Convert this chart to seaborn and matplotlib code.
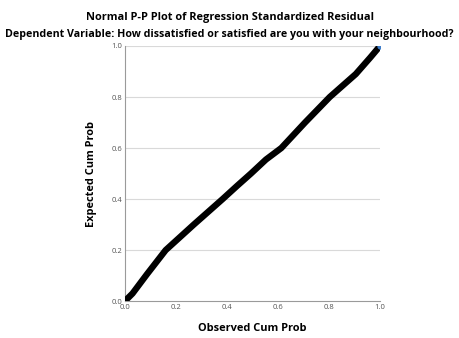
import matplotlib
matplotlib.use("Agg")
import matplotlib.pyplot as plt
import seaborn as sns
import pandas as pd

# Points (observed vs expected cumulative probability)
observed = [0.0, 0.03, 0.087, 0.16, 0.27, 0.383, 0.44, 0.494, 0.553, 0.613, 0.706, 0.803, 0.905, 0.962, 1.0]
expected = [0.0, 0.03, 0.106, 0.20, 0.30, 0.40, 0.452, 0.50, 0.555, 0.60, 0.70, 0.80, 0.89, 0.955, 1.0]
ticks = [0.0, 0.2, 0.4, 0.6, 0.8, 1.0]

df = pd.DataFrame({"observed": observed, "expected": expected})

sns.set_style("white")
plt.rcParams["font.family"] = ["Open Sans", "DejaVu Sans"]

fig = plt.figure(figsize=(4.59, 3.38), dpi=100)
ax = fig.add_axes([0.272, 0.109, 0.556, 0.755])

for t in ticks[1:]:
    ax.axhline(t, color="#d9d9d9", lw=0.8, zorder=0)

sns.lineplot(data=df, x="observed", y="expected", ax=ax, color="black",
             lw=4.6, solid_capstyle="round", solid_joinstyle="round", zorder=3)
# last point keeps its blue marker fill like the SPSS output
ax.plot(observed[-1], expected[-1], "o", ms=3.5, mfc="#3d7cc9", mec="#3d7cc9", zorder=4)

ax.set_xlim(0, 1)
ax.set_ylim(0, 1)
ax.set_xticks(ticks)
ax.set_yticks(ticks)
ax.set_xticklabels([f"{t:.1f}" for t in ticks])
ax.set_yticklabels([f"{t:.1f}" for t in ticks])
ax.tick_params(length=0, labelsize=5.5, labelcolor="#555555", pad=2)

for s in ["top", "right"]:
    ax.spines[s].set_visible(False)
for s in ["left", "bottom"]:
    ax.spines[s].set_color("#9a9a9a")
    ax.spines[s].set_linewidth(0.8)

ax.set_xlabel("Observed Cum Prob", fontsize=7.9, fontweight="bold", labelpad=9, color="black")
ax.set_ylabel("Expected Cum Prob", fontsize=7.9, fontweight="bold", labelpad=10, color="black")

fig.text(0.5, 0.948, "Normal P-P Plot of Regression Standardized Residual",
         ha="center", va="center", fontsize=7.9, fontweight="bold", color="black")
fig.text(0.5, 0.898, "Dependent Variable: How dissatisfied or satisfied are you with your neighbourhood?",
         ha="center", va="center", fontsize=7.65, fontweight="bold", color="black")

fig.savefig("out.png", dpi=100)
